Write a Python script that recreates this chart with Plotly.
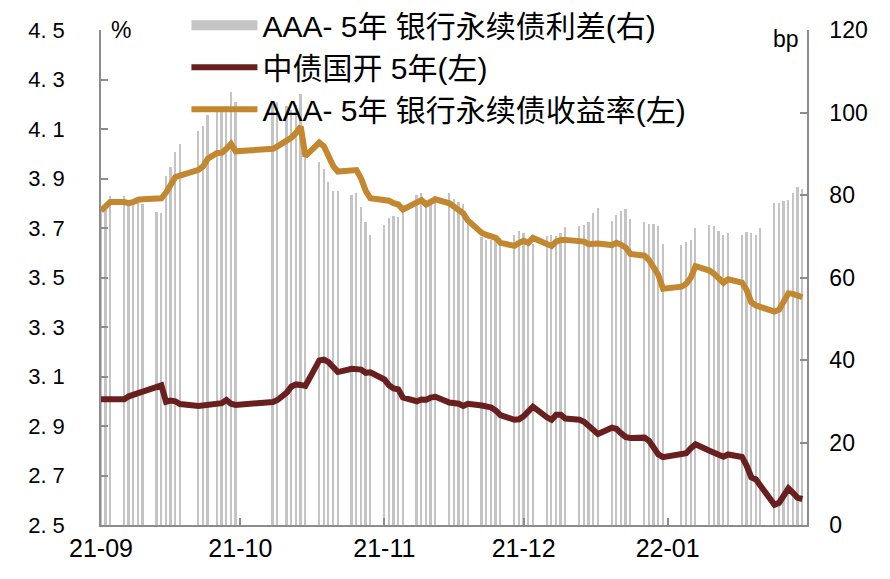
import plotly.graph_objects as go

# ---------------- data ----------------
dates = [
    "2021-09-01", "2021-09-02", "2021-09-03", "2021-09-06", "2021-09-07", "2021-09-08", "2021-09-09", "2021-09-10",
    "2021-09-13", "2021-09-14", "2021-09-15", "2021-09-16", "2021-09-17", "2021-09-18", "2021-09-22", "2021-09-23",
    "2021-09-24", "2021-09-26", "2021-09-27", "2021-09-28", "2021-09-29", "2021-09-30",
    "2021-10-08", "2021-10-09", "2021-10-11", "2021-10-12", "2021-10-13", "2021-10-14", "2021-10-15", "2021-10-18",
    "2021-10-19", "2021-10-20", "2021-10-21", "2021-10-22", "2021-10-25", "2021-10-26", "2021-10-27", "2021-10-28",
    "2021-10-29",
    "2021-11-01", "2021-11-02", "2021-11-03", "2021-11-04", "2021-11-05", "2021-11-08", "2021-11-09", "2021-11-10",
    "2021-11-11", "2021-11-12", "2021-11-15", "2021-11-16", "2021-11-17", "2021-11-18", "2021-11-19", "2021-11-22",
    "2021-11-23", "2021-11-24", "2021-11-25", "2021-11-26", "2021-11-29", "2021-11-30",
    "2021-12-01", "2021-12-02", "2021-12-03", "2021-12-06", "2021-12-07", "2021-12-08", "2021-12-09", "2021-12-10",
    "2021-12-13", "2021-12-14", "2021-12-15", "2021-12-16", "2021-12-17", "2021-12-20", "2021-12-21", "2021-12-22",
    "2021-12-23", "2021-12-24", "2021-12-27", "2021-12-28", "2021-12-29", "2021-12-30", "2021-12-31",
    "2022-01-04", "2022-01-05", "2022-01-06", "2022-01-07", "2022-01-10", "2022-01-11", "2022-01-12", "2022-01-13",
    "2022-01-14", "2022-01-17", "2022-01-18", "2022-01-19", "2022-01-20", "2022-01-21", "2022-01-24", "2022-01-25",
    "2022-01-26", "2022-01-27", "2022-01-28", "2022-01-29", "2022-01-30",
]

# AAA- 5年 银行永续债收益率 (%)
aaa_yield = [
    3.770, 3.785, 3.805, 3.805, 3.800, 3.805, 3.814, 3.816, 3.816, 3.820, 3.843, 3.870, 3.905, 3.912, 3.935, 3.950,
    3.980, 4.003, 4.004, 4.020, 4.040, 4.010,
    4.020, 4.030, 4.050, 4.065, 4.085, 4.110, 3.990, 4.045, 4.030, 3.990, 3.950, 3.928, 3.932, 3.934, 3.900, 3.850,
    3.820,
    3.816, 3.810, 3.800, 3.795, 3.775, 3.800, 3.813, 3.795, 3.805, 3.816, 3.800, 3.785, 3.772, 3.759, 3.730, 3.680,
    3.672, 3.667, 3.660, 3.640, 3.628, 3.640,
    3.648, 3.640, 3.660, 3.635, 3.627, 3.645, 3.652, 3.652, 3.650, 3.645, 3.635, 3.637, 3.637, 3.631, 3.640, 3.632,
    3.620, 3.595, 3.588, 3.570, 3.540, 3.510, 3.455,
    3.463, 3.475, 3.500, 3.546, 3.528, 3.515, 3.495, 3.479, 3.493, 3.479, 3.450, 3.400, 3.387, 3.380, 3.362, 3.370,
    3.410, 3.436, 3.434, 3.430, 3.420,
]

# 中债国开 5年 (%)
cdb_yield = [
    3.008, 3.008, 3.008, 3.008, 3.020, 3.029, 3.033, 3.039, 3.058, 3.064, 2.998, 3.003, 3.000, 2.989, 2.981, 2.982,
    2.986, 2.990, 2.992, 3.005, 2.990, 2.985,
    2.997, 3.005, 3.035, 3.060, 3.068, 3.066, 3.062, 3.165, 3.168, 3.158, 3.140, 3.118, 3.131, 3.130, 3.128, 3.115,
    3.117,
    3.088, 3.065, 3.052, 3.048, 3.015, 3.000, 3.007, 3.006, 3.015, 3.018, 2.995, 2.995, 2.990, 2.981, 2.990, 2.983,
    2.980, 2.975, 2.962, 2.944, 2.925, 2.927,
    2.940, 2.958, 2.978, 2.935, 2.925, 2.945, 2.945, 2.930, 2.925, 2.917, 2.900, 2.880, 2.868, 2.893, 2.888, 2.870,
    2.855, 2.852, 2.853, 2.840, 2.810, 2.785, 2.774,
    2.785, 2.790, 2.810, 2.826, 2.800, 2.790, 2.782, 2.776, 2.785, 2.775, 2.740, 2.693, 2.684, 2.660, 2.582, 2.590,
    2.625, 2.648, 2.630, 2.610, 2.605,
]

# AAA- 5年 银行永续债利差 (bp)
spread_bp = [
    76.2, 77.7, 79.7, 79.7, 78.0, 77.6, 78.1, 77.7, 75.8, 75.6, 84.5, 86.7, 90.5, 92.3, 95.4, 96.8,
    99.4, 101.3, 101.2, 101.5, 105.0, 102.5,
    102.3, 102.5, 101.5, 100.5, 101.7, 104.4, 92.8, 88.0, 86.2, 83.2, 81.0, 81.0, 80.1, 80.4, 77.2, 73.5,
    70.3,
    72.8, 74.5, 74.8, 74.7, 76.0, 80.0, 80.6, 78.9, 79.0, 79.8, 80.5, 79.0, 78.2, 77.8, 74.0, 69.7,
    69.2, 69.2, 69.8, 69.6, 70.3, 71.3,
    70.8, 68.2, 68.2, 70.0, 70.2, 70.0, 70.7, 72.2, 72.5, 72.8, 73.5, 75.7, 76.9, 73.8, 75.2, 76.2,
    76.5, 74.3, 73.5, 73.0, 73.0, 72.5, 68.1,
    67.8, 68.5, 69.0, 72.0, 72.8, 72.5, 71.3, 70.3, 70.8, 70.4, 71.0, 70.7, 70.3, 72.0, 78.0, 78.0,
    78.5, 78.8, 80.4, 82.0, 81.5,
]

month_ticks = ["2021-09-01", "2021-10-01", "2021-11-01", "2021-12-01", "2022-01-01"]
month_labels = ["21-09", "21-10", "21-11", "21-12", "22-01"]
left_ticks = [2.5, 2.7, 2.9, 3.1, 3.3, 3.5, 3.7, 3.9, 4.1, 4.3, 4.5]
left_labels = ["2. 5", "2. 7", "2. 9", "3. 1", "3. 3", "3. 5", "3. 7", "3. 9", "4. 1", "4. 3", "4. 5"]
right_ticks = [0, 20, 40, 60, 80, 100, 120]

name_spread = "AAA- 5年 银行永续债利差(右)"
name_cdb = "中债国开 5年(左)"
name_aaa = "AAA- 5年 银行永续债收益率(左)"

# ---------------- styles ----------------
FONT = "Liberation Sans, Arial, Noto Sans CJK SC, sans-serif"
C_BAR = "#c4c4c4"
C_CDB = "#6a1f1f"
C_AAA = "#c3872f"
C_AXIS = "#8c8c8c"

fig = go.Figure()

fig.add_trace(go.Bar(
    x=dates, y=spread_bp, name=name_spread, yaxis="y",
    marker=dict(color=C_BAR, line=dict(width=0)),
    width=0.38 * 86400000, showlegend=False,
))
# legend swatch for the bar series (wide grey block like the original)
fig.add_trace(go.Scatter(
    x=[None], y=[None], name=name_spread, yaxis="y", mode="lines",
    line=dict(color=C_BAR, width=15), showlegend=True,
))
fig.add_trace(go.Scatter(
    x=dates, y=cdb_yield, name=name_cdb, yaxis="y2", mode="lines",
    line=dict(color=C_CDB, width=6),
))
fig.add_trace(go.Scatter(
    x=dates, y=aaa_yield, name=name_aaa, yaxis="y2", mode="lines",
    line=dict(color=C_AAA, width=6),
))

fig.update_layout(
    width=890, height=579,
    margin=dict(l=101, r=83, t=30, b=54, autoexpand=False),
    paper_bgcolor="white", plot_bgcolor="white",
    font=dict(family=FONT, color="black", size=22),
    bargap=0,
    showlegend=True,
    legend=dict(
        x=0.121, y=1.062, xanchor="left", yanchor="top",
        bgcolor="rgba(0,0,0,0)", font=dict(size=30, family=FONT),
        itemwidth=66, traceorder="normal",
    ),
    xaxis=dict(
        type="date", range=["2021-09-01", "2022-01-31"],
        tickvals=month_ticks, ticktext=month_labels,
        ticks="inside", ticklen=7, tickcolor=C_AXIS, tickwidth=1.5,
        showline=True, linecolor=C_AXIS, linewidth=1.5,
        showgrid=False, zeroline=False,
        tickfont=dict(size=25, family=FONT),
    ),
    yaxis=dict(
        side="right", range=[0, 120], tickvals=right_ticks,
        ticks="inside", ticklen=7, tickcolor=C_AXIS, tickwidth=1.5,
        showline=True, linecolor=C_AXIS, linewidth=1.5,
        showgrid=False, zeroline=False,
        tickfont=dict(size=23, family=FONT),
        ticklabelstandoff=16,
    ),
    yaxis2=dict(
        side="left", overlaying="y", range=[2.5, 4.5],
        tickvals=left_ticks, ticktext=left_labels,
        ticks="inside", ticklen=7, tickcolor=C_AXIS, tickwidth=1.5,
        showline=True, linecolor=C_AXIS, linewidth=1.5,
        showgrid=False, zeroline=False,
        tickfont=dict(size=22, family=FONT),
        ticklabelstandoff=30,
    ),
    annotations=[
        dict(text="%", xref="paper", yref="paper", x=0.012, y=1.0, xanchor="left", yanchor="middle",
             showarrow=False, font=dict(size=23, family=FONT)),
        dict(text="bp", xref="paper", yref="paper", x=0.992, y=0.982, xanchor="right", yanchor="middle",
             showarrow=False, font=dict(size=23, family=FONT)),
    ],
)

fig.write_html("out.html")
